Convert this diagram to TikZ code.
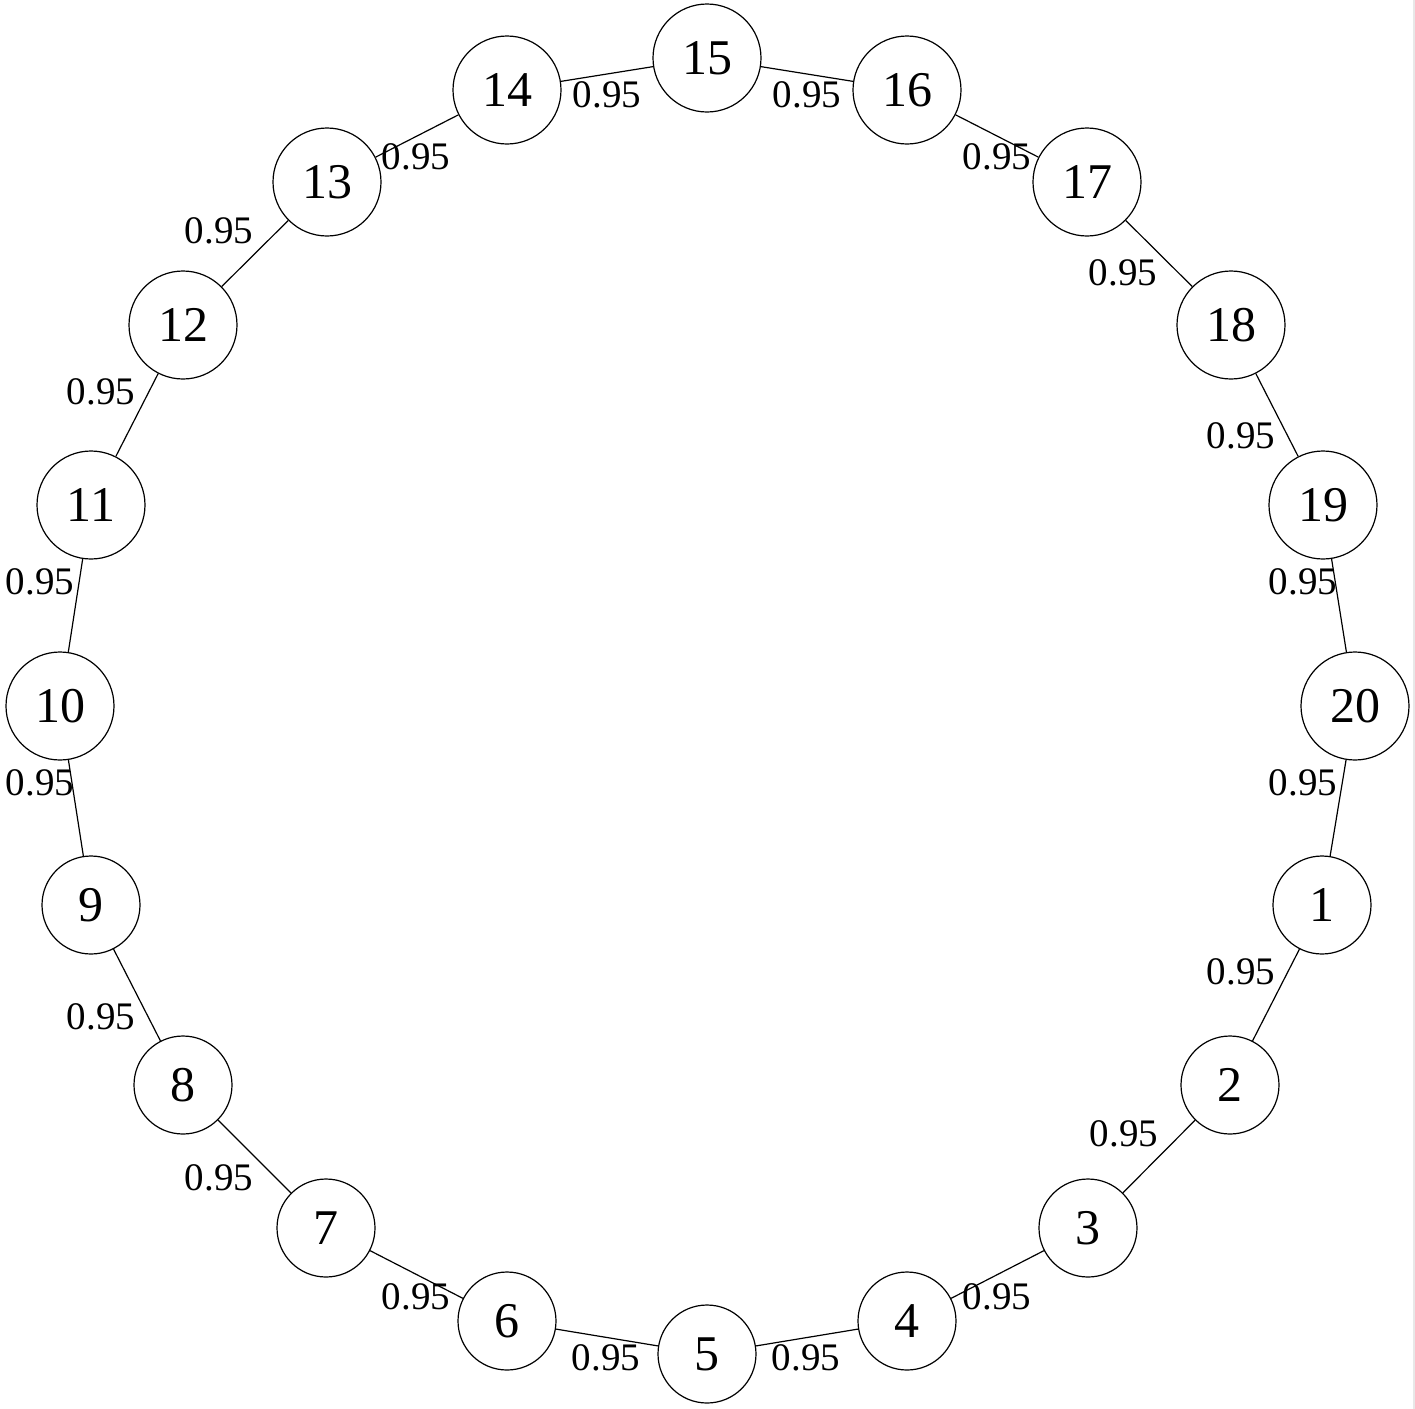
\documentclass[tikz,border=0pt]{standalone}
\usepackage{fontspec}
\setmainfont{Liberation Serif}
\begin{document}
\begin{tikzpicture}[x=0.5pt,y=-0.5pt,
  vbig/.style={circle,draw,line width=0.6pt,minimum size=54pt,inner sep=0pt,font=\fontsize{25}{30}\selectfont},
  vsmall/.style={circle,draw,line width=0.6pt,minimum size=49pt,inner sep=0pt,font=\fontsize{25}{30}\selectfont},
  elab/.style={inner sep=0pt,font=\fontsize{19.5}{23}\selectfont},
  edge/.style={line width=0.6pt}]
\useasboundingbox (0,0) rectangle (1415,1409);
\fill[gray!18] (1412.5,0) rectangle (1414.5,1409);
% nodes
\node[vbig] (n15) at (707,58) {15};
\node[vbig] (n16) at (907,90) {16};
\node[vbig] (n17) at (1087,182) {17};
\node[vbig] (n18) at (1231,325) {18};
\node[vbig] (n19) at (1323,505) {19};
\node[vbig] (n20) at (1355,706) {20};
\node[vsmall] (n1) at (1322,905) {1};
\node[vsmall] (n2) at (1230,1085) {2};
\node[vsmall] (n3) at (1088,1228) {3};
\node[vsmall] (n4) at (907,1321) {4};
\node[vsmall] (n5) at (707,1354) {5};
\node[vsmall] (n6) at (507,1321) {6};
\node[vsmall] (n7) at (326,1228) {7};
\node[vsmall] (n8) at (183,1085) {8};
\node[vsmall] (n9) at (91,905) {9};
\node[vbig] (n10) at (60,706) {10};
\node[vbig] (n11) at (91,505) {11};
\node[vbig] (n12) at (183,325) {12};
\node[vbig] (n13) at (327,182) {13};
\node[vbig] (n14) at (507,90) {14};
% edges
\foreach \a/\b in {1/2,2/3,3/4,4/5,5/6,6/7,7/8,8/9,9/10,10/11,11/12,12/13,13/14,14/15,15/16,16/17,17/18,18/19,19/20,20/1}
  \draw[edge] (n\a) -- (n\b);
% labels
\node[elab] (l1415) at (607,95) {0.95};
\node[elab] (l1516) at (807,95) {0.95};
\node[elab] (l1314) at (416,157) {0.95};
\node[elab] (l1617) at (997,157) {0.95};
\node[elab] (l1213) at (219,231) {0.95};
\node[elab] (l1718) at (1123,273) {0.95};
\node[elab] (l1112) at (101,392) {0.95};
\node[elab] (l1819) at (1241,436) {0.95};
\node[elab] (l1011) at (40,582) {0.95};
\node[elab] (l1920) at (1303,582) {0.95};
\node[elab] (l910) at (40,783) {0.95};
\node[elab] (l201) at (1303,783) {0.95};
\node[elab] (l89) at (101,1017) {0.95};
\node[elab] (l12) at (1241,972) {0.95};
\node[elab] (l78) at (219,1178) {0.95};
\node[elab] (l23) at (1124,1134) {0.95};
\node[elab] (l67) at (416,1297) {0.95};
\node[elab] (l34) at (997,1297) {0.95};
\node[elab] (l56) at (606,1358) {0.95};
\node[elab] (l45) at (806,1358) {0.95};
\end{tikzpicture}
\end{document}
